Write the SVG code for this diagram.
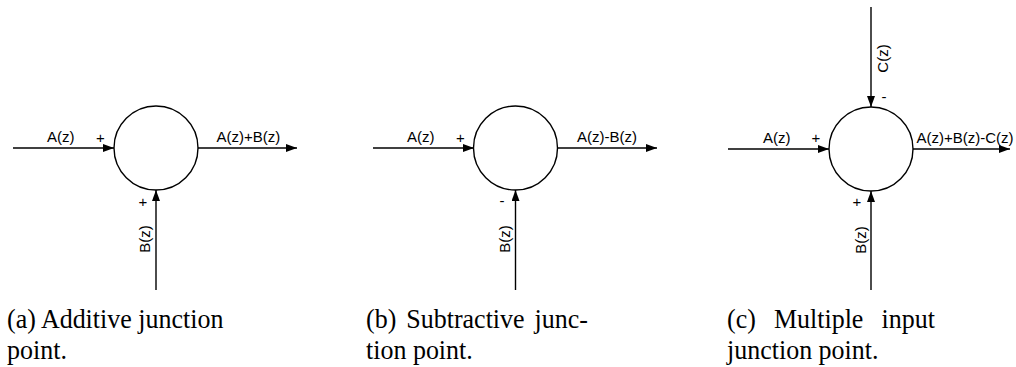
<svg xmlns="http://www.w3.org/2000/svg" width="1016" height="367" viewBox="0 0 1016 367">
<style>
.ln{stroke:#000;stroke-width:1.4;fill:none}
.jn{stroke:#000;stroke-width:1.4;fill:#fff}
.lb{font-family:"Liberation Sans",Arial,sans-serif;font-size:15px;fill:#000}
.cap{font-family:"Liberation Serif","Times New Roman",serif;font-size:28px;fill:#000}
</style>
<defs>
<marker id="ah" markerUnits="userSpaceOnUse" markerWidth="12" markerHeight="10" refX="11" refY="4" orient="auto">
<path d="M0,0 L11,4 L0,8 Z" fill="#000"/>
</marker>
</defs>
<rect width="1016" height="367" fill="#fff"/>
<g id="connectors">
<line class="ln" x1="13" y1="148" x2="114" y2="148" marker-end="url(#ah)"/>
<line class="ln" x1="198" y1="148" x2="297" y2="148" marker-end="url(#ah)"/>
<line class="ln" x1="156" y1="290" x2="156" y2="190" marker-end="url(#ah)"/>
<line class="ln" x1="373" y1="148" x2="474" y2="148" marker-end="url(#ah)"/>
<line class="ln" x1="557" y1="148" x2="657" y2="148" marker-end="url(#ah)"/>
<line class="ln" x1="515.5" y1="290" x2="515.5" y2="190" marker-end="url(#ah)"/>
<line class="ln" x1="728" y1="149" x2="829" y2="149" marker-end="url(#ah)"/>
<line class="ln" x1="913" y1="149" x2="1010" y2="149" marker-end="url(#ah)"/>
<line class="ln" x1="871" y1="7" x2="871" y2="107" marker-end="url(#ah)"/>
<line class="ln" x1="871" y1="290" x2="871" y2="191" marker-end="url(#ah)"/>
</g>
<g id="junction-a">
<circle class="jn" cx="156" cy="148" r="42"/>
<text class="lb" x="47" y="142">A(z)</text>
<text class="lb" x="100.5" y="143" text-anchor="middle">+</text>
<text class="lb" x="216.5" y="142">A(z)+B(z)</text>
<text class="lb" x="143" y="207" text-anchor="middle">+</text>
<text class="lb" text-anchor="middle" transform="translate(150,239) rotate(-90)">B(z)</text>
<g transform="translate(7,0) scale(0.928,1)">
<text class="cap" x="0" y="328">(a) Additive junction</text>
<text class="cap" x="0" y="359">point.</text>
</g>
</g>
<g id="junction-b">
<circle class="jn" cx="515.5" cy="148" r="42"/>
<text class="lb" x="407" y="142">A(z)</text>
<text class="lb" x="460.5" y="143" text-anchor="middle">+</text>
<text class="lb" x="577" y="142">A(z)-B(z)</text>
<text class="lb" x="502" y="206" text-anchor="middle">-</text>
<text class="lb" text-anchor="middle" transform="translate(509.5,239) rotate(-90)">B(z)</text>
<g transform="translate(366,0) scale(0.928,1)">
<text class="cap" x="0" y="328" word-spacing="3.8">(b) Subtractive junc-</text>
<text class="cap" x="0" y="359">tion point.</text>
</g>
</g>
<g id="junction-c">
<circle class="jn" cx="871" cy="149" r="42"/>
<text class="lb" x="763" y="143">A(z)</text>
<text class="lb" x="816" y="143" text-anchor="middle">+</text>
<text class="lb" x="916.5" y="143">A(z)+B(z)-C(z)</text>
<text class="lb" x="884" y="102" text-anchor="middle">-</text>
<text class="lb" text-anchor="middle" transform="translate(888,58.5) rotate(-90)">C(z)</text>
<text class="lb" x="857" y="207" text-anchor="middle">+</text>
<text class="lb" text-anchor="middle" transform="translate(866,240) rotate(-90)">B(z)</text>
<g transform="translate(727,0) scale(0.928,1)">
<text class="cap" x="0" y="328" word-spacing="12.5">(c) Multiple input</text>
<text class="cap" x="0" y="359">junction point.</text>
</g>
</g>
</svg>
